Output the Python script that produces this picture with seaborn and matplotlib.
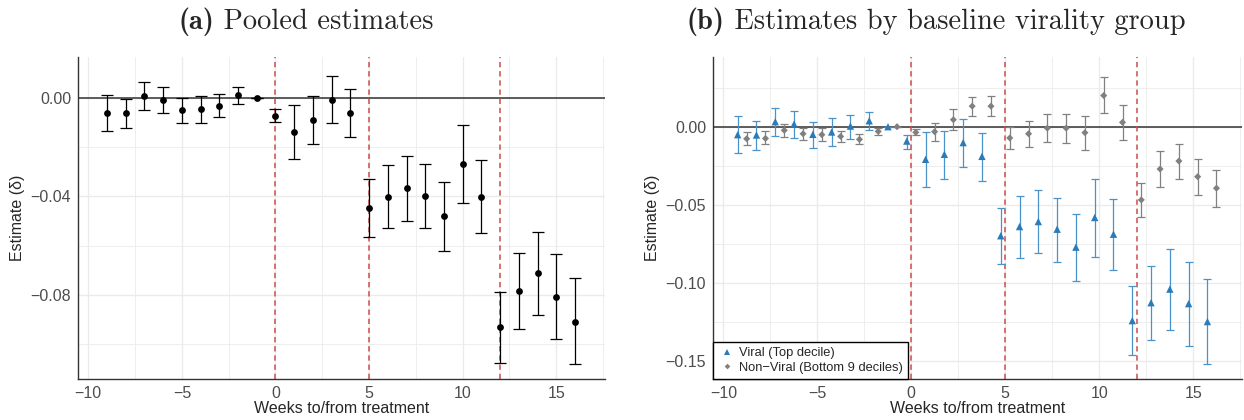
import numpy as np
import pandas as pd
import matplotlib
matplotlib.use("Agg")
import matplotlib.pyplot as plt
import seaborn as sns

# Data
weeks = [-9, -8, -7, -6, -5, -4, -3, -2, -1, 0, 1, 2, 3, 4, 5, 6, 7, 8,
         9, 10, 11, 12, 13, 14, 15, 16]

# (a) pooled
pooled_est = [-0.0061, -0.0064, 0.0008, -0.0009, -0.0050, -0.0047, -0.0032, 0.0009, 0.0,
              -0.0073, -0.0141, -0.0089, -0.0009, -0.0062, -0.0448, -0.0402, -0.0367,
              -0.0398, -0.0479, -0.0268, -0.0402, -0.0932, -0.0786, -0.0713, -0.0808, -0.0908]
pooled_hi = [0.0012, -0.0004, 0.0062, 0.0045, 0.0, 0.0005, 0.0014, 0.0045, 0.0,
             -0.0045, -0.0031, 0.0007, 0.0087, 0.0034, -0.0330, -0.0275, -0.0237,
             -0.0267, -0.0340, -0.0110, -0.0254, -0.0790, -0.0631, -0.0545, -0.0635, -0.0733]
pooled_lo = [-0.0134, -0.0124, -0.0049, -0.0064, -0.0103, -0.0101, -0.0080, -0.0026, 0.0,
             -0.0100, -0.0249, -0.0187, -0.0104, -0.0160, -0.0564, -0.0530, -0.0499,
             -0.0530, -0.0620, -0.0429, -0.0548, -0.1076, -0.0940, -0.0880, -0.0980, -0.1081]

# (b) viral (top decile)
viral_est = [-0.0051, -0.0053, 0.0032, 0.0017, -0.0049, -0.0034, 0.0004, 0.0038, 0.0,
             -0.0092, -0.0209, -0.0177, -0.0102, -0.0190, -0.0699, -0.0640, -0.0608,
             -0.0657, -0.0772, -0.0582, -0.0689, -0.1243, -0.1128, -0.1041, -0.1134, -0.1249]
viral_hi = [0.0066, 0.0036, 0.0117, 0.0098, 0.0032, 0.0053, 0.0075, 0.0092, 0.0,
            -0.0055, -0.0034, -0.0026, 0.0047, -0.0038, -0.0520, -0.0446, -0.0407,
            -0.0454, -0.0561, -0.0337, -0.0465, -0.1023, -0.0893, -0.0783, -0.0864, -0.0979]
viral_lo = [-0.0168, -0.0151, -0.0062, -0.0072, -0.0136, -0.0124, -0.0077, -0.0019, 0.0,
            -0.0143, -0.0386, -0.0333, -0.0256, -0.0345, -0.0878, -0.0840, -0.0810,
            -0.0866, -0.0987, -0.0834, -0.0917, -0.1463, -0.1369, -0.1303, -0.1405, -0.1522]

# (b) non-viral (bottom 9 deciles)
nonviral_est = [-0.0077, -0.0075, -0.0023, -0.0045, -0.0051, -0.0062, -0.0081, -0.0030, 0.0,
                -0.0036, -0.0032, 0.0045, 0.0132, 0.0132, -0.0072, -0.0045, -0.0009,
                -0.0009, -0.0038, 0.0200, 0.0028, -0.0469, -0.0271, -0.0220, -0.0320, -0.0394]
nonviral_hi = [-0.0032, -0.0030, 0.0017, -0.0009, -0.0011, -0.0026, -0.0047, -0.0009, 0.0,
               -0.0017, 0.0023, 0.0111, 0.0190, 0.0194, -0.0002, 0.0036, 0.0081,
               0.0083, 0.0066, 0.0316, 0.0139, -0.0360, -0.0156, -0.0113, -0.0207, -0.0277]
nonviral_lo = [-0.0117, -0.0113, -0.0064, -0.0085, -0.0092, -0.0098, -0.0113, -0.0053, 0.0,
               -0.0055, -0.0092, -0.0021, 0.0070, 0.0068, -0.0145, -0.0130, -0.0096,
               -0.0102, -0.0147, 0.0085, -0.0085, -0.0576, -0.0388, -0.0333, -0.0435, -0.0512]

treatment_weeks = [0, 5, 12]
x_ticks = [-10, -5, 0, 5, 10, 15]
x_ticklabels = ["−10", "−5", "0", "5", "10", "15"]

# Style
sns.set_style("white")
plt.rcParams["font.family"] = ["Liberation Sans", "DejaVu Sans"]

RED = "#C9504C"
BLUE = "#2A7BBA"
BLUE_BAR = "#4A92C8"
GRAY = "#808080"
GRID = "#EBEBEB"
FS = 11.5

fig = plt.figure(figsize=(12.44, 4.2), dpi=100)
ax1 = fig.add_axes([0.0627, 0.0976, 0.4236, 0.7667])
ax2 = fig.add_axes([0.5732, 0.0976, 0.4252, 0.7667])


def style_axis(ax, ylim, major, major_labels, minor):
    ax.set_xticks(x_ticks)
    ax.set_xticklabels(x_ticklabels)
    ax.set_xticks([-7.5, -2.5, 2.5, 7.5, 12.5, 17.5], minor=True)
    ax.set_yticks(major)
    ax.set_yticklabels(major_labels)
    ax.set_yticks(minor, minor=True)
    ax.grid(which="major", color=GRID, lw=1.0, zorder=0)
    ax.grid(which="minor", color=GRID, lw=0.6, zorder=0)
    ax.set_axisbelow(True)
    for s in ["top", "right"]:
        ax.spines[s].set_visible(False)
    for s in ["left", "bottom"]:
        ax.spines[s].set_color("#333333")
        ax.spines[s].set_linewidth(1.0)
    ax.tick_params(which="major", length=3, width=0.8, color="#333333",
                   labelcolor="#4D4D4D", labelsize=FS, pad=2)
    ax.tick_params(which="minor", length=0)
    ax.axhline(0, color="#333333", lw=1.1, zorder=1)
    for w in treatment_weeks:
        ax.axvline(w, color=RED, lw=1.1, ls=(0, (3.5, 2.5)), zorder=1)
    ax.set_xlabel("Weeks to/from treatment", fontsize=FS, labelpad=0)
    ax.set_ylabel("Estimate (δ)", fontsize=FS, labelpad=4)
    # limits last so set_ticks cannot widen them
    ax.set_xlim(-10.55, 17.6)
    ax.set_ylim(*ylim)


# (a) Pooled estimates
pooled = pd.DataFrame({"week": weeks, "est": pooled_est,
                       "lo": pooled_lo, "hi": pooled_hi})
ax1.errorbar(pooled["week"], pooled["est"],
             yerr=[pooled["est"] - pooled["lo"], pooled["hi"] - pooled["est"]],
             fmt="none", ecolor="black", elinewidth=0.9, capsize=4.5, capthick=0.9, zorder=2)
sns.scatterplot(data=pooled, x="week", y="est", ax=ax1, color="black",
                s=24, edgecolor="black", linewidth=0, zorder=3, legend=False)
style_axis(ax1, (-0.1141, 0.0165), [-0.08, -0.04, 0.0], ["−0.08", "−0.04", "0.00"],
           [-0.10, -0.06, -0.02])

# (b) Estimates by baseline virality group
groups = pd.DataFrame({
    "week": weeks * 2,
    "est": viral_est + nonviral_est,
    "lo": viral_lo + nonviral_lo,
    "hi": viral_hi + nonviral_hi,
    "group": ["Viral (Top decile)"] * len(weeks) + ["Non−Viral (Bottom 9 deciles)"] * len(weeks),
})
dodge = {"Viral (Top decile)": -0.24, "Non−Viral (Bottom 9 deciles)": 0.24}
groups["xpos"] = groups["week"] + groups["group"].map(dodge)

bar_colors = {"Viral (Top decile)": BLUE_BAR, "Non−Viral (Bottom 9 deciles)": GRAY}
for name, sub in groups.groupby("group", sort=False):
    ax2.errorbar(sub["xpos"], sub["est"],
                 yerr=[sub["est"] - sub["lo"], sub["hi"] - sub["est"]],
                 fmt="none", ecolor=bar_colors[name], elinewidth=0.9,
                 capsize=2.8, capthick=0.9, zorder=2)

sns.scatterplot(data=groups, x="xpos", y="est", hue="group", style="group", ax=ax2,
                palette={"Viral (Top decile)": BLUE, "Non−Viral (Bottom 9 deciles)": GRAY},
                markers={"Viral (Top decile)": "^", "Non−Viral (Bottom 9 deciles)": "D"},
                size="group", sizes={"Viral (Top decile)": 28, "Non−Viral (Bottom 9 deciles)": 13},
                linewidth=0, zorder=3)
style_axis(ax2, (-0.1617, 0.0447), [-0.15, -0.10, -0.05, 0.0],
           ["−0.15", "−0.10", "−0.05", "0.00"], [-0.125, -0.075, -0.025, 0.025])

handles, labels = ax2.get_legend_handles_labels()
leg = ax2.legend(handles, labels, loc="lower left", bbox_to_anchor=(0.0, 0.0),
                 frameon=True, fancybox=False, fontsize=9.3, markerscale=0.8,
                 handletextpad=0.3, borderpad=0.4, labelspacing=0.2,
                 handlelength=1.3, borderaxespad=0)
leg.get_frame().set_edgecolor("black")
leg.get_frame().set_linewidth(1.0)
leg.get_frame().set_alpha(1)

# Panel titles: bold label in cmb10, rest in cmr10, centred as a pair
renderer = fig.canvas.get_renderer()
for cx, tag, rest in [(306, "(a)", " Pooled estimates"),
                      (936, "(b)", " Estimates by baseline virality group")]:
    t1 = fig.text(0, 1 - 22 / 420, tag, family="cmb10", fontsize=20.5,
                  ha="left", va="center")
    t2 = fig.text(0, 1 - 22 / 420, rest, family="cmr10", fontsize=20.5,
                  ha="left", va="center")
    w1 = t1.get_window_extent(renderer).width
    w2 = t2.get_window_extent(renderer).width
    x0 = cx - (w1 + w2) / 2
    t1.set_x(x0 / 1244)
    t2.set_x((x0 + w1) / 1244)

fig.savefig("out.png", dpi=100)
plt.close()
